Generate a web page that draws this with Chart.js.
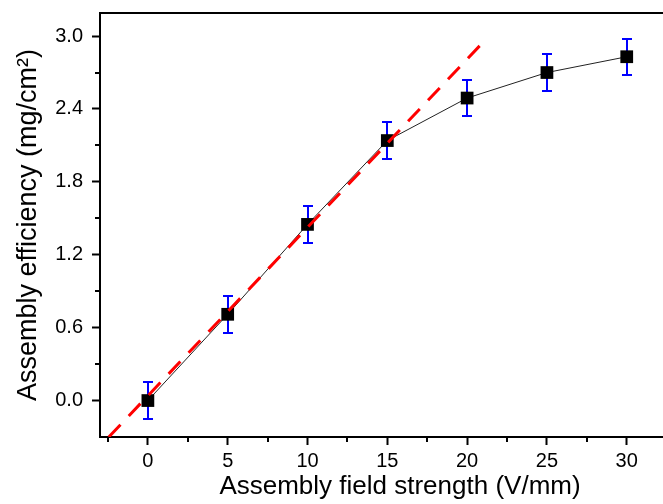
<!DOCTYPE html>
<html>
<head>
<meta charset="utf-8">
<style>
html, body { margin: 0; padding: 0; overflow: hidden; background: #fff; width: 663px; height: 504px; }
#wrap { width: 709px; height: 504px; }
canvas { display: block; }
</style>
<script src="https://cdn.jsdelivr.net/npm/chart.js@4/dist/chart.umd.min.js"></script>
</head>
<body>
<div id="wrap"><canvas id="c" width="709" height="504"></canvas></div>
<script>
// ---- data ----
const fieldStrength = [0, 5, 10, 15, 20, 25, 30];
const efficiency = [0.00, 0.71, 1.45, 2.14, 2.49, 2.70, 2.83];
const efficiencyError = [0.15, 0.15, 0.15, 0.15, 0.15, 0.15, 0.15];
const fitX = [-2.45, 21.15];
const fitY = [-0.30, 2.97];

// ---- ticks ----
const xTickValues = [-2.5, 0, 2.5, 5, 7.5, 10, 12.5, 15, 17.5, 20, 22.5, 25, 27.5, 30, 32.5];
const xMajorTicks = [0, 5, 10, 15, 20, 25, 30];
const yTickValues = [0, 0.3, 0.6, 0.9, 1.2, 1.5, 1.8, 2.1, 2.4, 2.7, 3.0];
const yMajorTicks = [0, 0.6, 1.2, 1.8, 2.4, 3.0];

const xTitle = 'Assembly field strength (V/mm)';
const yTitle = 'Assembly efficiency (mg/cm\u00B2)';

Chart.defaults.font.family = '"Liberation Sans", Arial, sans-serif';
Chart.defaults.color = '#000';

const framePlugin = {
  id: 'framePlugin',
  beforeDatasetsDraw(chart) {
    const { ctx, scales: { x, y } } = chart;
    ctx.save();
    ctx.strokeStyle = '#0000ff';
    ctx.lineWidth = 2;
    fieldStrength.forEach((fx, i) => {
      const px = Math.round(x.getPixelForValue(fx));
      const top = Math.round(y.getPixelForValue(efficiency[i] + efficiencyError[i]));
      const bot = Math.round(y.getPixelForValue(efficiency[i] - efficiencyError[i]));
      ctx.beginPath();
      ctx.moveTo(px, top); ctx.lineTo(px, bot);
      ctx.moveTo(px - 5, top); ctx.lineTo(px + 5, top);
      ctx.moveTo(px - 5, bot); ctx.lineTo(px + 5, bot);
      ctx.stroke();
    });
    ctx.restore();
  },
  afterDraw(chart) {
    const { ctx, chartArea: a, scales: { x, y } } = chart;
    ctx.save();
    ctx.strokeStyle = '#000';
    ctx.lineWidth = 2;
    ctx.beginPath();
    ctx.moveTo(a.left - 1, a.top);
    ctx.lineTo(a.right, a.top);
    ctx.lineTo(a.right, a.bottom);
    ctx.stroke();
    ctx.beginPath();
    xTickValues.filter(v => !xMajorTicks.includes(v)).forEach(v => {
      const p = Math.round(x.getPixelForValue(v));
      ctx.moveTo(p, a.bottom); ctx.lineTo(p, a.bottom + 5);
    });
    yTickValues.filter(v => !yMajorTicks.includes(v)).forEach(v => {
      const p = Math.round(y.getPixelForValue(v));
      ctx.moveTo(a.left, p); ctx.lineTo(a.left - 5, p);
    });
    ctx.stroke();
    ctx.restore();
  }
};

new Chart(document.getElementById('c'), {
  type: 'line',
  data: {
    datasets: [
      {
        label: 'fit',
        data: fitX.map((v, i) => ({ x: v, y: fitY[i] })),
        borderColor: '#ff0000',
        borderWidth: 3,
        borderDash: [17, 12],
        pointRadius: 0,
        order: 0
      },
      {
        label: 'efficiency',
        data: fieldStrength.map((v, i) => ({ x: v, y: efficiency[i] })),
        borderColor: '#222',
        borderWidth: 1,
        tension: 0,
        pointStyle: 'rect',
        pointRadius: 9,
        pointHoverRadius: 9,
        pointBackgroundColor: '#000',
        pointBorderColor: '#000',
        pointBorderWidth: 0,
        order: 1
      }
    ]
  },
  options: {
    responsive: false,
    animation: false,
    events: [],
    layout: { padding: { top: 13, right: 0, left: 0, bottom: 0 } },
    plugins: { legend: { display: false }, tooltip: { enabled: false } },
    scales: {
      x: {
        type: 'linear',
        min: -3,
        max: 34.59,
        afterBuildTicks: s => { s.ticks = xTickValues.map(v => ({ value: v })); },
        afterFit: s => { s.height = 67; },
        grid: {
          drawOnChartArea: false,
          drawTicks: true,
          tickLength: 8,
          tickWidth: 2,
          tickColor: c => (c.tick && xMajorTicks.includes(c.tick.value)) ? '#000' : 'rgba(0,0,0,0)'
        },
        border: { display: true, width: 2, color: '#000' },
        ticks: {
          autoSkip: false,
          maxRotation: 0,
          padding: 4,
          font: { size: 20 },
          callback: v => xMajorTicks.includes(v) ? String(v) : ''
        },
        title: {
          display: true,
          text: xTitle,
          font: { size: 26 },
          padding: { top: 0, bottom: 2 }
        }
      },
      y: {
        type: 'linear',
        min: -0.3,
        max: 3.19,
        afterBuildTicks: s => { s.ticks = yTickValues.map(v => ({ value: v })); },
        afterFit: s => { s.width = 100; s.paddingTop = 0; s.paddingBottom = 0; },
        grid: {
          drawOnChartArea: false,
          drawTicks: true,
          tickLength: 8,
          tickWidth: 2,
          tickColor: c => (c.tick && yMajorTicks.includes(c.tick.value)) ? '#000' : 'rgba(0,0,0,0)'
        },
        border: { display: true, width: 2, color: '#000' },
        ticks: {
          autoSkip: false,
          padding: 9,
          font: { size: 20 },
          callback: v => yMajorTicks.includes(v) ? v.toFixed(1) : ''
        },
        title: {
          display: true,
          text: yTitle,
          font: { size: 27 },
          padding: { top: 12, bottom: 0 }
        }
      }
    }
  },
  plugins: [framePlugin]
});
</script>
</body>
</html>
